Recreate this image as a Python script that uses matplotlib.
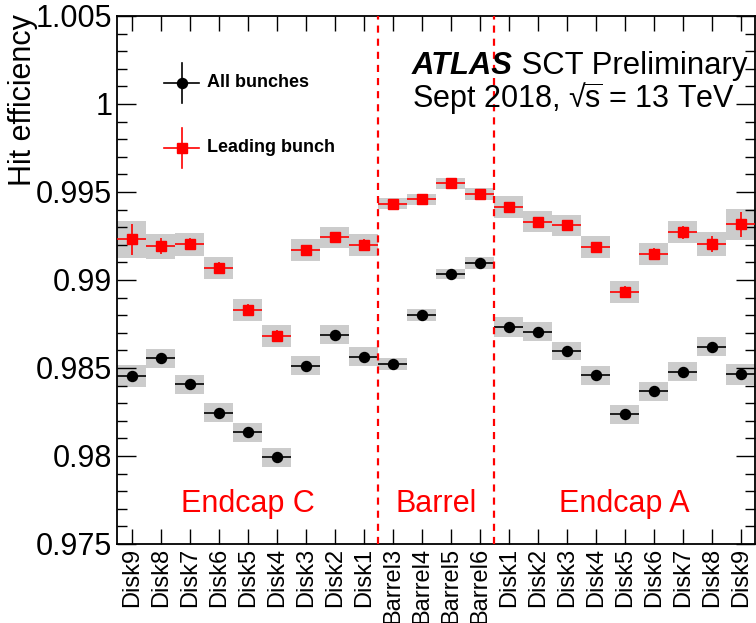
import numpy as np
import matplotlib
matplotlib.use("Agg")
import matplotlib.pyplot as plt
from matplotlib.ticker import FixedLocator, MultipleLocator, FuncFormatter

plt.rcParams['font.family'] = ['Liberation Sans', 'DejaVu Sans']
plt.rcParams['mathtext.fontset'] = 'custom'
plt.rcParams['mathtext.rm'] = 'Liberation Sans'
plt.rcParams['mathtext.it'] = 'Liberation Sans:italic'

# SCT layers: endcap C disks, barrel layers, endcap A disks
layers = ['Disk9', 'Disk8', 'Disk7', 'Disk6', 'Disk5', 'Disk4', 'Disk3', 'Disk2', 'Disk1',
          'Barrel3', 'Barrel4', 'Barrel5', 'Barrel6',
          'Disk1', 'Disk2', 'Disk3', 'Disk4', 'Disk5', 'Disk6', 'Disk7', 'Disk8', 'Disk9']

# hit efficiency, all bunches
all_eff = [0.98456, 0.98555, 0.98407, 0.98246, 0.98136, 0.97992, 0.98513, 0.98688, 0.98564,
           0.98523, 0.98801, 0.99034, 0.99097,
           0.98735, 0.98706, 0.98597, 0.98458, 0.98237, 0.98369, 0.98479, 0.98621, 0.98464]
all_stat = [0.00015, 0.00015, 0.00015, 0.00015, 0.00015, 0.00015, 0.00015, 0.00015, 0.00015,
            0.00010, 0.00010, 0.00010, 0.00010,
            0.00015, 0.00015, 0.00015, 0.00015, 0.00015, 0.00015, 0.00015, 0.00015, 0.00015]
all_syst = [0.00062, 0.00054, 0.00054, 0.00053, 0.00054, 0.00054, 0.00054, 0.00054, 0.00053,
            0.00036, 0.00033, 0.00031, 0.00032,
            0.00057, 0.00053, 0.00053, 0.00054, 0.00054, 0.00054, 0.00054, 0.00055, 0.00059]

# hit efficiency, leading bunch
lead_eff = [0.99231, 0.99193, 0.99203, 0.99068, 0.98830, 0.98682, 0.99170, 0.99242, 0.99199,
            0.99434, 0.99458, 0.99549, 0.99487,
            0.99415, 0.99330, 0.99311, 0.99186, 0.98932, 0.99150, 0.99271, 0.99206, 0.99316]
lead_stat = [0.00087, 0.00047, 0.00035, 0.00036, 0.00035, 0.00035, 0.00030, 0.00030, 0.00034,
             0.00012, 0.00012, 0.00012, 0.00012,
             0.00030, 0.00030, 0.00030, 0.00030, 0.00035, 0.00032, 0.00037, 0.00045, 0.00071]
lead_syst = [0.00104, 0.00071, 0.00066, 0.00062, 0.00064, 0.00062, 0.00062, 0.00059, 0.00062,
             0.00033, 0.00033, 0.00033, 0.00033,
             0.00062, 0.00060, 0.00060, 0.00062, 0.00063, 0.00063, 0.00062, 0.00069, 0.00090]

regions = ['Endcap C', 'Barrel', 'Endcap A']
region_bounds = [(0, 8), (9, 12), (13, 21)]

x = np.arange(len(layers))
all_eff = np.array(all_eff)
lead_eff = np.array(lead_eff)
all_syst = np.array(all_syst)
lead_syst = np.array(lead_syst)

fig = plt.figure(figsize=(7.56, 6.23), dpi=100)
ax = fig.add_axes([117.2 / 756, 1 - 544 / 623, 638 / 756, 528 / 623])

# systematic bands
ax.bar(x, 2 * all_syst, bottom=all_eff - all_syst, width=1.0, color='#cccccc',
       edgecolor='none', zorder=1)
ax.bar(x, 2 * lead_syst, bottom=lead_eff - lead_syst, width=1.0, color='#cccccc',
       edgecolor='none', zorder=1)

ax.errorbar(x, all_eff, xerr=0.5, yerr=all_stat, fmt='o', color='black', ms=7.2,
            elinewidth=1.2, capsize=0, zorder=3)
ax.errorbar(x, lead_eff, xerr=0.5, yerr=lead_stat, fmt='s', color='#ff0000', ms=7.6,
            elinewidth=1.2, capsize=0, zorder=4)

ax.set_xlim(-0.5, len(layers) - 0.5)
ax.set_ylim(0.975, 1.005)

# region separators and names
for lo, hi in region_bounds[:-1]:
    ax.axvline(hi + 0.5, color='#ff0000', lw=1.6, dashes=(3.2, 2.7), zorder=5)
for name, (lo, hi) in zip(regions, region_bounds):
    ax.text((lo + hi) / 2, 0.97684, name, color='#ff0000', fontsize=22,
            ha='center', va='baseline')

ax.xaxis.set_major_locator(FixedLocator(x))
ax.set_xticklabels(layers, rotation=90, fontsize=17, va='top', ha='center')
ax.yaxis.set_major_locator(MultipleLocator(0.005))
ax.yaxis.set_minor_locator(MultipleLocator(0.001))
ax.yaxis.set_major_formatter(FuncFormatter(lambda v, p: '%g' % round(v, 4)))
ax.tick_params(axis='x', which='both', direction='in', top=True, length=10.8,
               width=1.0, pad=3)
ax.tick_params(axis='x', which='minor', bottom=False, top=False)
ax.tick_params(axis='y', which='major', direction='in', right=True, length=13.7,
               width=1.0, labelsize=22, pad=3.5)
ax.tick_params(axis='y', which='minor', direction='in', right=True, length=7.2,
               width=1.0)
for s in ax.spines.values():
    s.set_linewidth(1.3)

fig.text(23 / 756, 1 - 14 / 623, 'Hit efficiency', rotation=90, fontsize=22,
         ha='center', va='top')

# experiment label
t1 = fig.text(412 / 756, 1 - 74 / 623, 'ATLAS', fontsize=22.3, fontweight='bold',
              fontstyle='italic', va='baseline', ha='left')
fig.canvas.draw()
ax.annotate(' SCT Preliminary', xy=(1, 0), xycoords=t1, fontsize=22.3,
            va='bottom', ha='left')
fig.text(412 / 756, 1 - 107 / 623, 'Sept 2018, √$\\overline{\\mathrm{s}}$ = 13 TeV',
         fontsize=22, va='baseline', ha='left')

# legend
leg_x, leg_dx, leg_dy = 0.101, 0.0274, 0.0379
for ly, col, mk, ms, lab in [(0.874, 'black', 'o', 7.2, 'All bunches'),
                             (0.7506, '#ff0000', 's', 7.6, 'Leading bunch')]:
    ax.plot([leg_x - leg_dx, leg_x + leg_dx], [ly, ly], color=col, lw=1.2,
            transform=ax.transAxes)
    ax.plot([leg_x, leg_x], [ly - leg_dy, ly + leg_dy], color=col, lw=1.2,
            transform=ax.transAxes)
    ax.plot([leg_x], [ly], marker=mk, ms=ms, color=col, transform=ax.transAxes)
    ax.text(0.1408, ly, lab, fontsize=13, fontweight='bold', va='center',
            ha='left', transform=ax.transAxes)

fig.savefig('out.png', dpi=100)
